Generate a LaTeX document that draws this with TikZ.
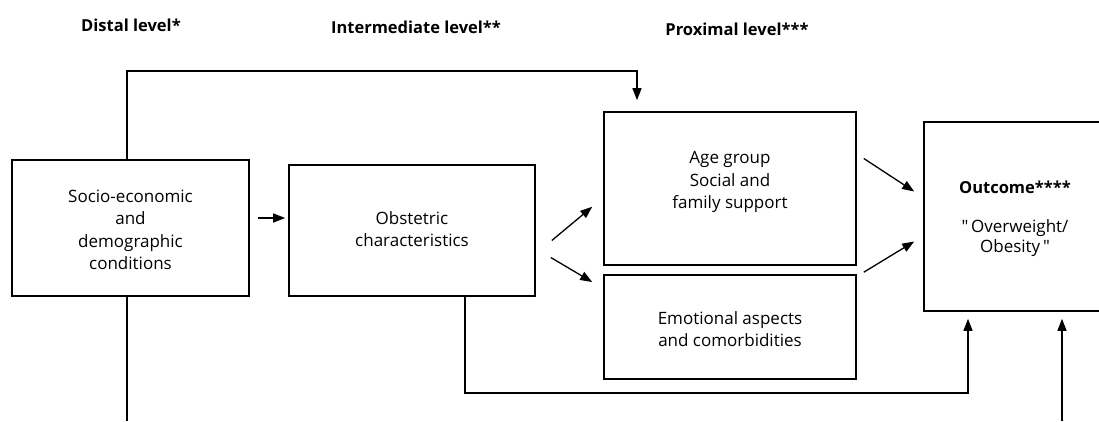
\documentclass[tikz,border=0pt]{standalone}
\usepackage{fontspec}
\setmainfont{Open Sans}[Ligatures=TeXOff]
\usetikzlibrary{arrows.meta}
\begin{document}
\begin{tikzpicture}[x=1pt,y=-1pt,
  box/.style={draw, line width=1.6pt, inner sep=0pt},
  txt/.style={font=\fontsize{17}{22.5}\selectfont, align=center, inner sep=0pt},
  head/.style={font=\fontsize{16.5}{20}\selectfont\bfseries, inner sep=0pt, anchor=base},
  conn/.style={line width=1.3pt},
  arr/.style={line width=1.3pt, -{Triangle[length=12pt,width=9pt]}}]
\useasboundingbox (0,0) rectangle (1099,421);
% headers
\node[head] (h1) at (131,31) {Distal level*};
\node[head] (h2) at (416,33) {Intermediate level**};
\node[head] (h3) at (737,35) {Proximal level***};
% boxes
\node[box, minimum width=237pt, minimum height=136pt] (A) at (130.5,228) {};
\node[box, minimum width=246pt, minimum height=131pt] (B) at (412,230.5) {};
\node[box, minimum width=252pt, minimum height=153pt] (C) at (730,188.5) {};
\node[box, minimum width=252pt, minimum height=104pt] (E) at (730,327) {};
\node[box, minimum width=177pt, minimum height=189pt] (O) at (1012.5,216.5) {};
% texts
\node[txt] (At) at (130.5,230) {Socio-economic\\and\\demographic\\conditions};
\node[txt] (Bt) at (412,229) {Obstetric\\characteristics};
\node[txt] (Ct) at (730,182) {Age group\\Social and\\family support};
\node[txt] (Et) at (730,329) {Emotional aspects\\and comorbidities};
\node[txt, font=\fontsize{16.5}{22}\selectfont\bfseries, anchor=base] (Ot1) at (1015,193) {Outcome****};
\node[txt, font=\fontsize{17}{19.5}\selectfont] (Ot2) at (1015,238) {"\,Overweight/\\Obesity\,"};
% coordinates
\coordinate (topL) at (127,71);
\coordinate (topR) at (637,71);
\coordinate (bl) at (465,393);
\coordinate (br) at (968,393);
\coordinate (aEnd) at (127,421);
\coordinate (rEnd) at (1062,421);
% connectors
\draw[arr, shorten >=11pt] (A.north -| topL) -- (topL) -- (topR) -- (C.north -| topR);
\draw[arr, shorten <=8pt, shorten >=3pt] (A.east |- 0,218) -- (B.west |- 0,218);
\draw[arr] ([shift={(16,10)}]B.east) -- ([shift={(-11,-59)}]C.south west);
\draw[arr] ([shift={(15,27)}]B.east) -- ([shift={(-11,-45)}]E.west);
\draw[arr] ([shift={(7,-30)}]C.east) -- ([shift={(-9,-25)}]O.west);
\draw[arr] ([shift={(7,-2)}]E.north east) -- ([shift={(-9,25)}]O.west);
\draw[arr, shorten >=7pt] (B.south -| bl) -- (bl) -- (br) -- (O.south -| br);
\draw[conn] (A.south -| aEnd) -- (aEnd);
\draw[arr, shorten >=7pt] (rEnd) -- (O.south -| rEnd);
\end{tikzpicture}
\end{document}
